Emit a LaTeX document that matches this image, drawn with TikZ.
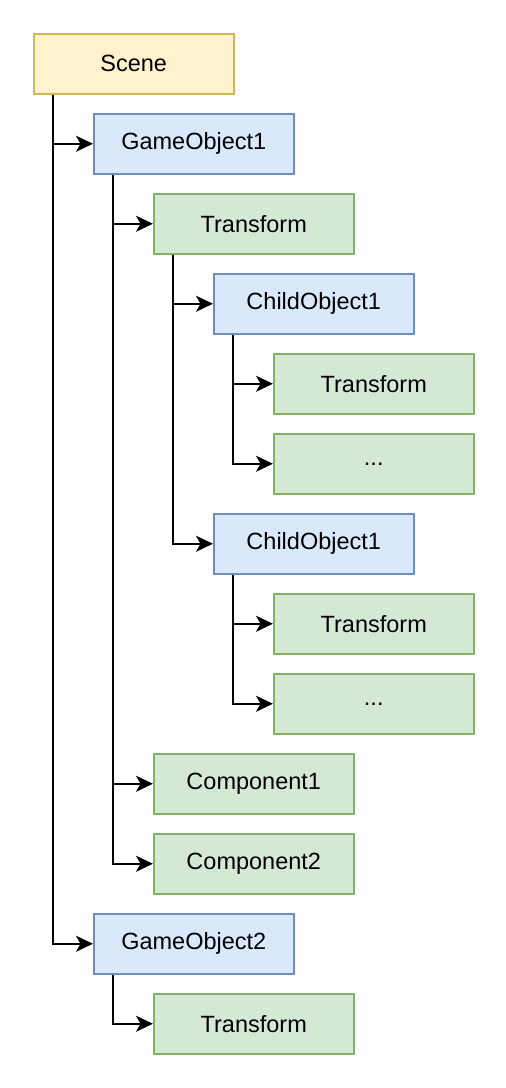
\documentclass[tikz,border=0pt]{standalone}
\usepackage{fontspec}
\setmainfont{Liberation Sans}
\usetikzlibrary{arrows.meta}
\definecolor{yfill}{HTML}{FFF2CC}\definecolor{ydraw}{HTML}{D6B656}
\definecolor{bfill}{HTML}{DAE8FC}\definecolor{bdraw}{HTML}{6C8EBF}
\definecolor{gfill}{HTML}{D5E8D4}\definecolor{gdraw}{HTML}{82B366}
\begin{document}
\begin{tikzpicture}[x=1pt,y=-1pt,
  box/.style={draw, line width=1.5pt, minimum width=200pt, minimum height=60pt, inner sep=0pt, font=\fontsize{23.5}{27}\selectfont, anchor=north west},
  ybox/.style={box, fill=yfill, draw=ydraw},
  bbox/.style={box, fill=bfill, draw=bdraw},
  gbox/.style={box, fill=gfill, draw=gdraw},
  conn/.style={line width=1.8pt, -{Stealth[length=17pt,width=16pt,inset=4.5pt]}}]
\useasboundingbox (0,0) rectangle (506,1088);
\node[ybox] (scene) at (33,33) {Scene};
\node[bbox] (go1) at (93,113) {GameObject1};
\node[gbox] (t1) at (153,193) {Transform};
\node[bbox] (c1) at (213,273) {ChildObject1};
\node[gbox] (c1t) at (273,353) {Transform};
\node[gbox] (c1d) at (273,433) {...};
\node[bbox] (c2) at (213,513) {ChildObject1};
\node[gbox] (c2t) at (273,593) {Transform};
\node[gbox] (c2d) at (273,673) {...};
\node[gbox] (comp1) at (153,753) {Component1};
\node[gbox] (comp2) at (153,833) {Component2};
\node[bbox] (go2) at (93,913) {GameObject2};
\node[gbox] (t2) at (153,993) {Transform};
\draw[conn] ([xshift=20pt]scene.south west) |- (go1.west);
\draw[conn] ([xshift=20pt]scene.south west) |- (go2.west);
\draw[conn] ([xshift=20pt]go1.south west) |- (t1.west);
\draw[conn] ([xshift=20pt]go1.south west) |- (comp1.west);
\draw[conn] ([xshift=20pt]go1.south west) |- (comp2.west);
\draw[conn] ([xshift=20pt]t1.south west) |- (c1.west);
\draw[conn] ([xshift=20pt]t1.south west) |- (c2.west);
\draw[conn] ([xshift=20pt]c1.south west) |- (c1t.west);
\draw[conn] ([xshift=20pt]c1.south west) |- (c1d.west);
\draw[conn] ([xshift=20pt]c2.south west) |- (c2t.west);
\draw[conn] ([xshift=20pt]c2.south west) |- (c2d.west);
\draw[conn] ([xshift=20pt]go2.south west) |- (t2.west);
\end{tikzpicture}
\end{document}
